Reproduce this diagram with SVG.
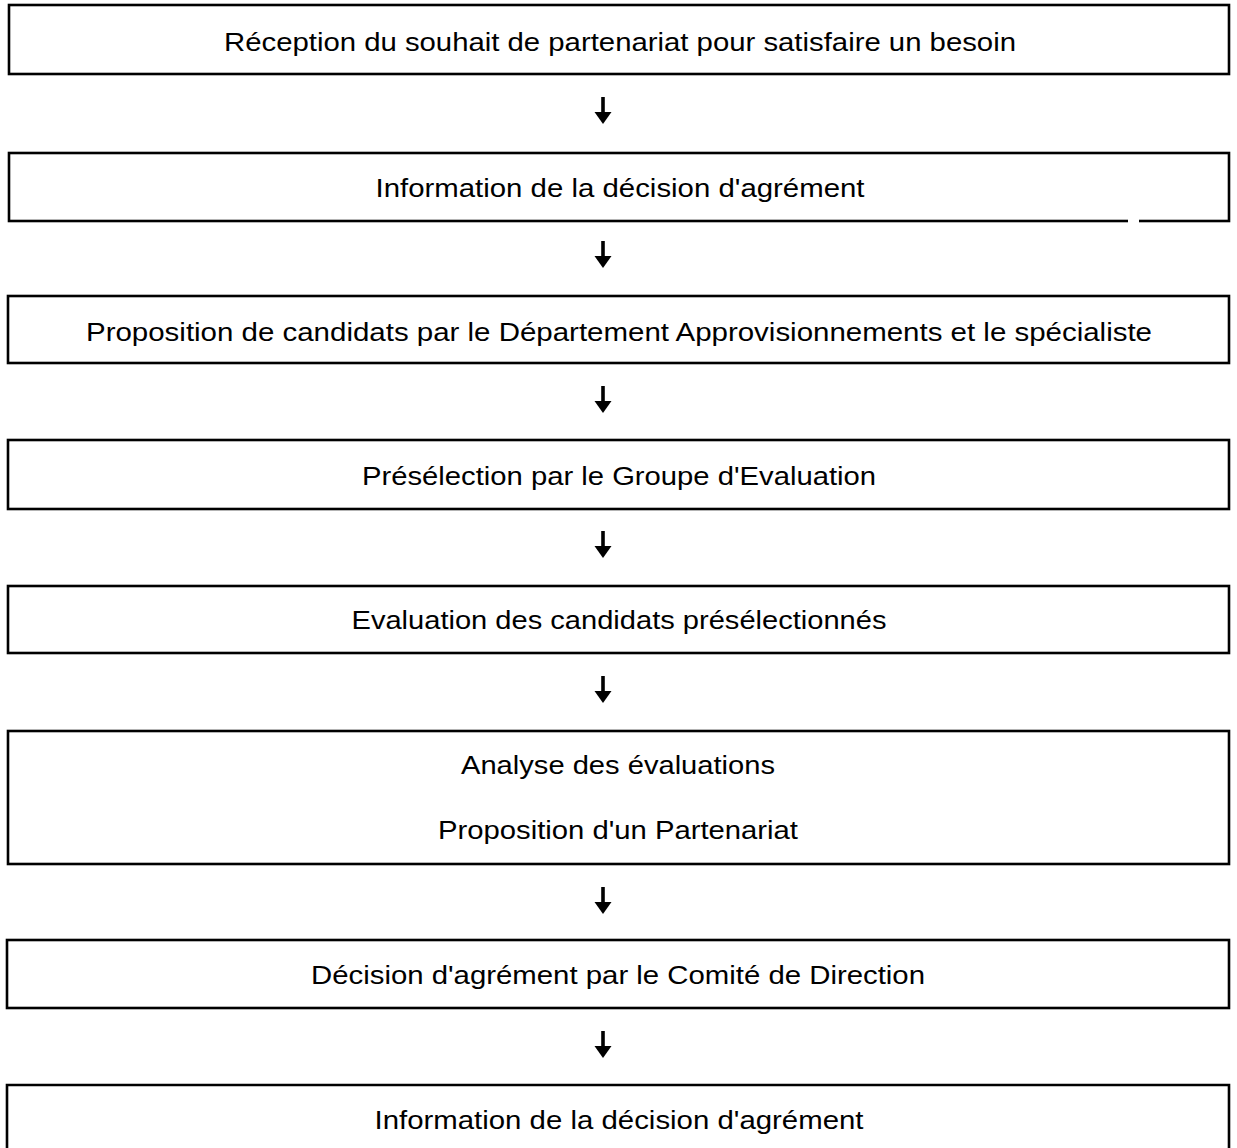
<svg xmlns="http://www.w3.org/2000/svg" width="1237" height="1148" viewBox="0 0 1237 1148">
  <style>
    .box { fill: none; stroke: #000; stroke-width: 2.6; }
    .lbl { font-family: "Liberation Sans", Arial, sans-serif; font-size: 25px; fill: #000; text-anchor: middle; }
    .arrow-shaft { stroke: #000; stroke-width: 3.6; }
    .arrow-head { fill: #000; }
  </style>
  <defs>
    <g id="down-arrow">
      <line class="arrow-shaft" x1="0" y1="0" x2="0" y2="17"/>
      <polygon class="arrow-head" points="-8.5,15 8.5,15 0,27"/>
    </g>
  </defs>
  <rect width="1237" height="1148" fill="#fff"/>

  <g id="step1">
    <rect class="box" x="9" y="5" width="1220" height="69"/>
    <text class="lbl" x="620" y="51" textLength="792" lengthAdjust="spacingAndGlyphs">Réception du souhait de partenariat pour satisfaire un besoin</text>
  </g>
  <g id="step2">
    <rect class="box" x="9" y="153" width="1220" height="68"/>
    <line x1="1128" y1="221" x2="1139" y2="221" stroke="#fff" stroke-width="4"/>
    <text class="lbl" x="620" y="197" textLength="489" lengthAdjust="spacingAndGlyphs">Information de la décision d'agrément</text>
  </g>
  <g id="step3">
    <rect class="box" x="8" y="296" width="1221" height="67"/>
    <text class="lbl" x="619" y="341" textLength="1066" lengthAdjust="spacingAndGlyphs">Proposition de candidats par le Département Approvisionnements et le spécialiste</text>
  </g>
  <g id="step4">
    <rect class="box" x="8" y="440" width="1221" height="69"/>
    <text class="lbl" x="619" y="485" textLength="514" lengthAdjust="spacingAndGlyphs">Présélection par le Groupe d'Evaluation</text>
  </g>
  <g id="step5">
    <rect class="box" x="8" y="586" width="1221" height="67"/>
    <text class="lbl" x="619" y="629" textLength="535" lengthAdjust="spacingAndGlyphs">Evaluation des candidats présélectionnés</text>
  </g>
  <g id="step6">
    <rect class="box" x="8" y="731" width="1221" height="133"/>
    <text class="lbl" x="618" y="774" textLength="314" lengthAdjust="spacingAndGlyphs">Analyse des évaluations</text>
    <text class="lbl" x="618" y="839" textLength="360" lengthAdjust="spacingAndGlyphs">Proposition d'un Partenariat</text>
  </g>
  <g id="step7">
    <rect class="box" x="7" y="940" width="1222" height="68"/>
    <text class="lbl" x="618" y="984" textLength="614" lengthAdjust="spacingAndGlyphs">Décision d'agrément par le Comité de Direction</text>
  </g>
  <g id="step8">
    <path class="box" d="M7,1150 V1085 H1229 V1150"/>
    <text class="lbl" x="619" y="1129" textLength="489" lengthAdjust="spacingAndGlyphs">Information de la décision d'agrément</text>
  </g>

  <g id="connectors">
    <use href="#down-arrow" x="603" y="97"/>
    <use href="#down-arrow" x="603" y="241"/>
    <use href="#down-arrow" x="603" y="386"/>
    <use href="#down-arrow" x="603" y="531"/>
    <use href="#down-arrow" x="603" y="676"/>
    <use href="#down-arrow" x="603" y="887"/>
    <use href="#down-arrow" x="603" y="1031"/>
  </g>
</svg>
